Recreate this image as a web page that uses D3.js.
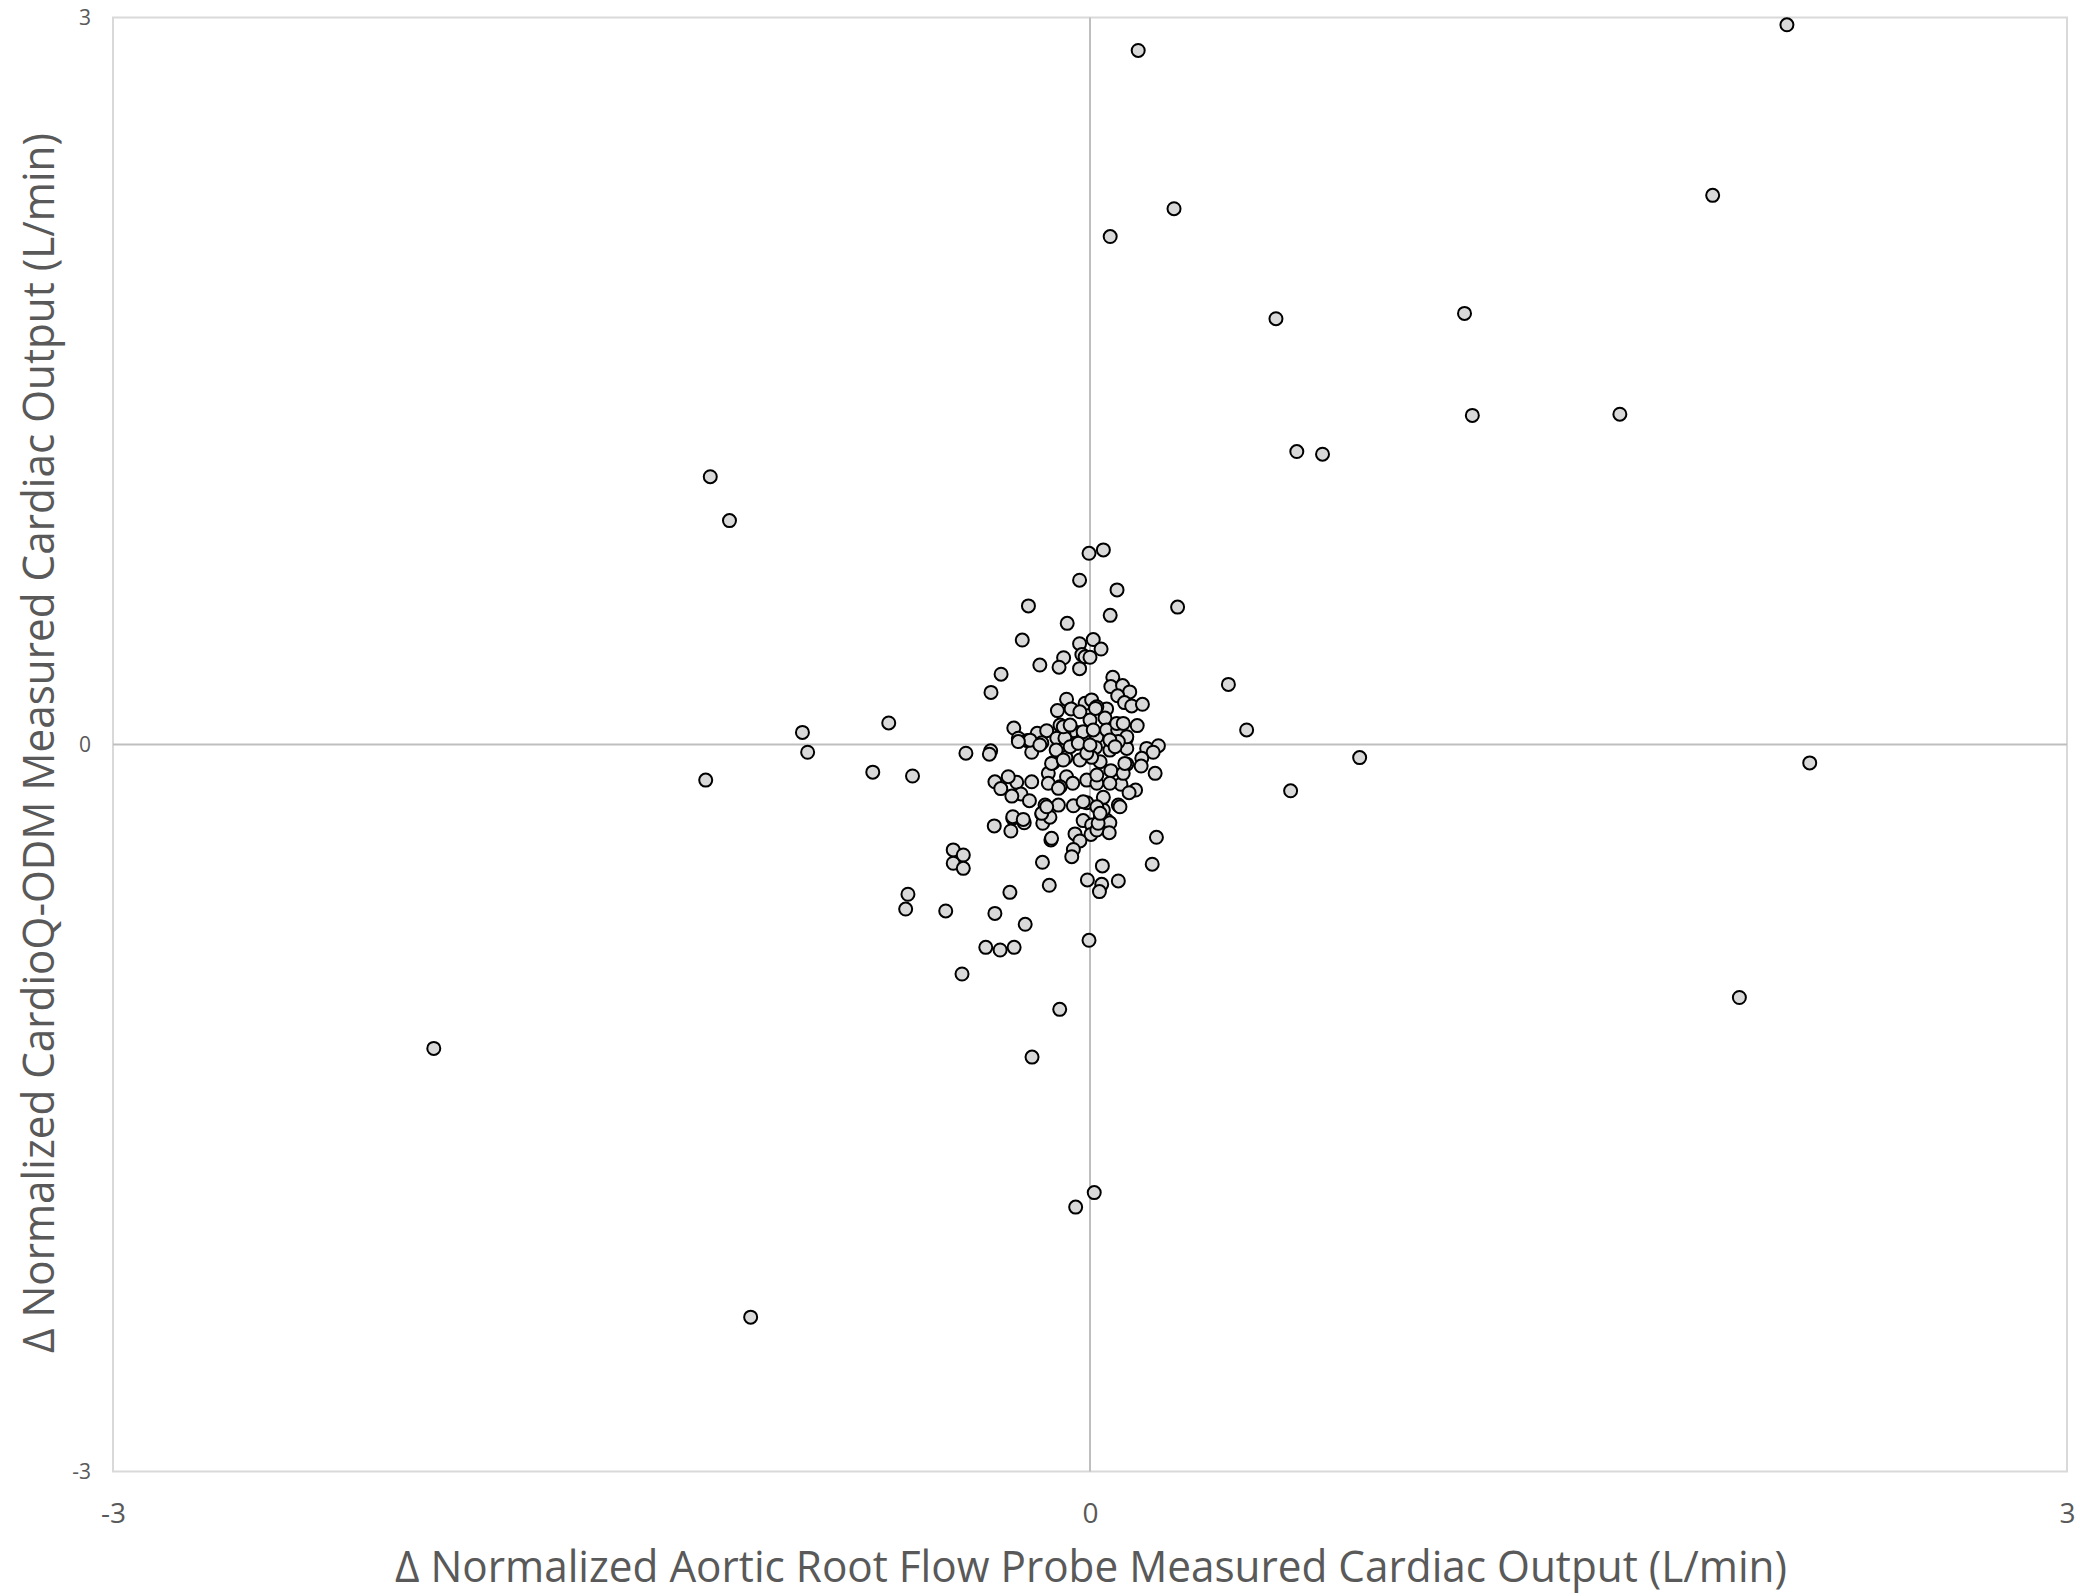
<!DOCTYPE html>
<html>
<head>
<meta charset="utf-8">
<script src="https://cdn.jsdelivr.net/npm/d3@7"></script>
<style>
  html, body { margin: 0; padding: 0; background: #fff; }
  svg { display: block; }
</style>
</head>
<body>
<svg id="chart" width="2080" height="1596"></svg>
<script>
// Δ Normalized Aortic Root Flow Probe Measured CO (x) and Δ Normalized CardioQ-ODM Measured CO (y)
const deltaProbe = [
  2.14, 0.148, 0.258, 0.062, 1.912, 0.571, 1.150, 1.174, 1.627, 0.635, 0.714, -1.166, -1.107,
  -0.003, 0.041, -0.032, 0.083, -0.189, 0.269, 0.062, -0.070, -0.208, 0.425, -0.883, -0.618,
  -0.867, -1.180, -0.667, -0.545, 0.481, 0.828, 0.616, 2.210, 1.994, -2.015, -1.042, -0.044,
  0.013, -0.178, -0.093, -0.003, -0.393, -0.320, -0.276, -0.233, -0.199, -0.292, -0.443, -0.559,
  -0.566, -0.246, -0.420, -0.420, -0.389, -0.389, -0.125, -0.146, -0.008, 0.038, 0.036, 0.029,
  0.087, 0.191, 0.204, -0.120, -0.294, -0.237, -0.243, -0.202, -0.148, -0.145, -0.123, -0.021,
  0.005, 0.003, -0.046, -0.031, -0.051, -0.056, 0.031, 0.051, 0.061, 0.059, 0.041, 0.021,
  -0.118, 0.025,
  -0.032, 0.010, 0.034, -0.025, -0.015, 0.000, -0.081, -0.154, -0.095, -0.032, -0.273, -0.304,
  0.070, 0.064, 0.100, 0.122, 0.085, 0.106, 0.128, 0.161, -0.072, -0.100, -0.058, -0.015,
  0.005, 0.018, 0.051, -0.031, 0.000, 0.046, 0.021, 0.017, -0.234, -0.220, -0.192, -0.162,
  -0.133, -0.148, -0.179, -0.102, -0.092, -0.077, -0.041, -0.021, 0.021, 0.051, 0.085, 0.111,
  0.145, 0.082, 0.174, 0.210, 0.194, 0.159, 0.157, 0.200, 0.113, 0.113, 0.061, 0.017,
  0.031, 0.005, -0.031, -0.074, -0.113, -0.104, -0.043, -0.128, -0.128, -0.072, -0.053, -0.010,
  0.021, 0.064, 0.095, 0.102, 0.140, 0.120, 0.087, 0.092, 0.041, -0.010, -0.051, -0.097,
  -0.138, -0.148, -0.092, -0.225, -0.251, -0.292, -0.274, -0.179, -0.212, -0.186, -0.240, -0.381,
  -0.305, -0.309, -0.237, -0.205,
  -0.082, -0.061, -0.021, -0.184, 0.010, 0.102, 0.113, 0.087, 0.061, 0.077, -0.220, -0.154,
  -0.118, -0.082, -0.061, -0.036, -0.010, 0.000, -0.097, 0.021, -0.133, -0.021, 0.021, 0.107,
  0.061, 0.031
];
const deltaODM = [
  2.97, 2.864, 2.211, 2.096, 2.266, 1.757, 1.779, 1.358, 1.363, 1.209, 1.198, 1.105, 0.924,
  0.789, 0.803, 0.678, 0.638, 0.572, 0.567, 0.533, 0.500, 0.431, 0.248, 0.050, 0.089,
  -0.032, -0.147, -0.114, -0.130, 0.060, -0.054, -0.191, -0.076, -1.044, -1.254, -2.363, -1.909,
  -1.849, -1.290, -1.093, -0.808, -0.947, -0.837, -0.848, -0.837, -0.742, -0.697, -0.687, -0.618,
  -0.679, -0.610, -0.435, -0.490, -0.456, -0.511, -0.581, -0.486, -0.559, -0.501, -0.577, -0.607,
  -0.563, -0.494, -0.383, -0.394, -0.336, -0.305, -0.357, -0.323, -0.287, -0.325, -0.300, -0.314,
  -0.332, -0.371, -0.369, -0.398, -0.433, -0.463, -0.305, -0.312, -0.323, -0.364, -0.270, -0.353,
  -0.387, -0.325,
  0.416, 0.433, 0.394, 0.371, 0.362, 0.360, 0.358, 0.328, 0.319, 0.313, 0.290, 0.215,
  0.277, 0.239, 0.243, 0.217, 0.201, 0.173, 0.159, 0.166, 0.187, 0.140, 0.147, 0.170,
  0.184, 0.152, 0.147, 0.135, 0.101, 0.109, 0.156, 0.149, 0.068, 0.026, 0.016, 0.046,
  0.057, 0.007, -0.032, 0.026, 0.080, 0.026, 0.050, 0.032, 0.032, 0.060, 0.060, 0.023,
  0.078, 0.087, -0.016, -0.005, -0.032, -0.057, -0.089, -0.119, -0.016, -0.081, -0.023, -0.012,
  -0.071, -0.053, -0.064, -0.054, -0.075, -0.023, 0.005, -0.119, -0.160, -0.133, -0.160, -0.147,
  -0.160, -0.108, -0.164, -0.119, -0.188, -0.199, -0.250, -0.257, -0.218, -0.240, -0.253, -0.250,
  -0.250, -0.284, -0.174, -0.156, -0.133, -0.154, -0.182, -0.154, -0.204, -0.232, -0.213, -0.036,
  -0.026, -0.040, -0.298, -0.309,
  0.073, 0.080, 0.053, 0.018, 0.060, 0.087, 0.032, 0.012, 0.019, -0.009, 0.012, -0.002,
  -0.078, -0.064, -0.009, 0.005, -0.036, -0.002, -0.181, -0.126, -0.257, -0.236, -0.257, -0.078,
  -0.160, -0.284
];
const xTickValues = [-3, 0, 3];
const yTickValues = [-3, 0, 3];
const xTitle = "\u0394 Normalized Aortic Root Flow Probe Measured Cardiac Output (L/min)";
const yTitle = "\u0394 Normalized CardioQ-ODM Measured Cardiac Output (L/min)";

const points = deltaProbe.map((d, i) => ({ x: d, y: deltaODM[i] }));

const svg = d3.select("#chart");
const plotLeft = 113, plotRight = 2067, plotTop = 17.5, plotBottom = 1471.5;
const x = d3.scaleLinear().domain([-3, 3]).range([plotLeft, plotRight]);
const y = d3.scaleLinear().domain([-3, 3]).range([plotBottom, plotTop]);
const font = "'Open Sans', 'Noto Sans', sans-serif";
const textColor = "#595959";
const fmt = d => String(d);

// plot border
svg.append("rect")
  .attr("x", plotLeft).attr("y", plotTop)
  .attr("width", plotRight - plotLeft).attr("height", plotBottom - plotTop)
  .attr("fill", "none").attr("stroke", "#d9d9d9").attr("stroke-width", 2);

// zero lines
svg.append("line")
  .attr("x1", x(0)).attr("x2", x(0)).attr("y1", plotTop).attr("y2", plotBottom)
  .attr("stroke", "#bfbfbf").attr("stroke-width", 2);
svg.append("line")
  .attr("x1", plotLeft).attr("x2", plotRight).attr("y1", y(0)).attr("y2", y(0))
  .attr("stroke", "#bfbfbf").attr("stroke-width", 2);

// axes
const xAxis = svg.append("g")
  .attr("transform", `translate(0,${plotBottom})`)
  .call(d3.axisBottom(x).tickValues(xTickValues).tickSize(0).tickFormat(fmt));
xAxis.select(".domain").remove();
xAxis.selectAll("text")
  .attr("y", 42).attr("dy", "0.35em")
  .attr("fill", textColor).style("font-family", font).style("font-size", "28px");

const yAxis = svg.append("g")
  .attr("transform", `translate(${plotLeft},0)`)
  .call(d3.axisLeft(y).tickValues(yTickValues).tickSize(0).tickFormat(fmt));
yAxis.select(".domain").remove();
yAxis.selectAll("text")
  .attr("x", -22).attr("dy", "0.35em")
  .attr("fill", textColor).style("font-family", font).style("font-size", "21px");

// points
svg.append("g").selectAll("circle")
  .data(points)
  .join("circle")
  .attr("cx", d => x(d.x))
  .attr("cy", d => y(d.y))
  .attr("r", 6.5)
  .attr("fill", "#d9d9d9")
  .attr("stroke", "#000")
  .attr("stroke-width", 2);

// axis titles
svg.append("text")
  .attr("x", (395 + 1787) / 2).attr("y", 1582)
  .attr("text-anchor", "middle")
  .attr("fill", textColor)
  .style("font-family", font).style("font-size", "43px")
  .attr("textLength", 1392).attr("lengthAdjust", "spacingAndGlyphs")
  .text(xTitle);

svg.append("text")
  .attr("transform", `translate(54,743) rotate(-90)`)
  .attr("text-anchor", "middle")
  .attr("fill", textColor)
  .style("font-family", font).style("font-size", "44px")
  .attr("textLength", 1220).attr("lengthAdjust", "spacingAndGlyphs")
  .text(yTitle);
</script>
</body>
</html>
